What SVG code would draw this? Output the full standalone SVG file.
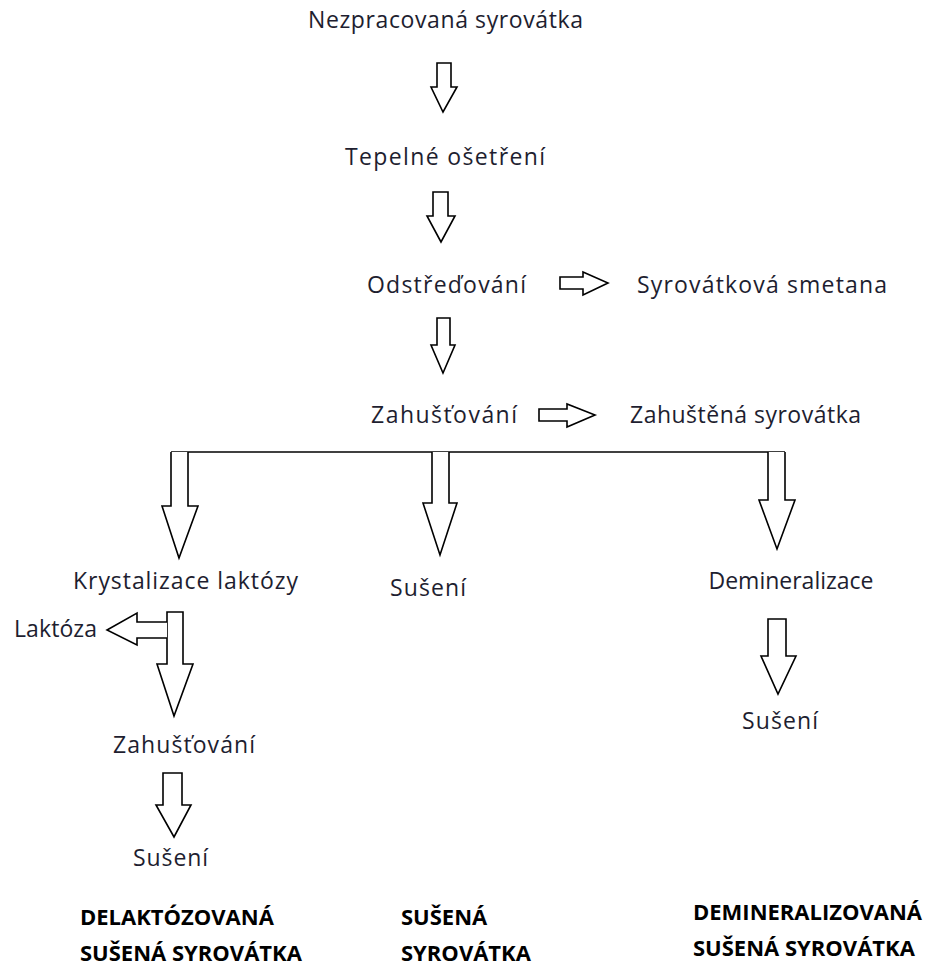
<svg xmlns="http://www.w3.org/2000/svg" width="930" height="967" viewBox="0 0 930 967">
<style>
.t{font-family:"Open Sans","Liberation Sans",sans-serif;font-size:23px;fill:#1e1e30}
.b{font-family:"Open Sans","Liberation Sans",sans-serif;font-size:22px;font-weight:bold;fill:#000}
.a{fill:#fff;stroke:#000;stroke-width:1.6;stroke-linejoin:miter}
</style>
<rect width="930" height="967" fill="#fff"/>
<g id="connectors">
<path class="a" d="M437 63 H451 V87 H457 L443 112 L431 87 H437 Z"/>
<path class="a" d="M433 192 H448 V216 H455 L441 242 L427 216 H433 Z"/>
<path class="a" d="M560 277 H583 V272 L608 283 L583 295 V289 H560 Z"/>
<path class="a" d="M437 318 H450 V345 H455 L443 373 L431 345 H437 Z"/>
<path class="a" d="M539 409 H567 V404 L595 415 L567 427 V421 H539 Z"/>
<line x1="171" y1="452" x2="785" y2="452" stroke="#000" stroke-width="1.6"/>
<path class="a" d="M171 452 V506 H162 L179 558 L198 506 H188 V452"/>
<path class="a" d="M432 452 V503 H423 L440 555 L457 503 H449 V452"/>
<path class="a" d="M768 452 V500 H759 L777 549 L795 500 H785 V452"/>
<path class="a" d="M167 612 H183 V664 H193 L174 716 L157 664 H167 Z"/>
<path class="a" d="M167 622 H137 V613 L107 630 L137 645 V638 H167"/>
<path class="a" d="M768 619 H786 V656 H796 L778 694 L761 656 H768 Z"/>
<path class="a" d="M163 773 H182 V805 H191 L174 837 L156 805 H163 Z"/>
</g>
<g id="n1"><text class="t" x="308" y="28" textLength="275">Nezpracovaná syrovátka</text></g>
<g id="n2"><text class="t" x="345" y="165" textLength="200">Tepelné ošetření</text></g>
<g id="n3"><text class="t" x="367" y="293" textLength="159">Odstřeďování</text></g>
<g id="n4"><text class="t" x="637" y="293" textLength="250">Syrovátková smetana</text></g>
<g id="n5"><text class="t" x="371" y="423" textLength="146">Zahušťování</text></g>
<g id="n6"><text class="t" x="630" y="423" textLength="231">Zahuštěná syrovátka</text></g>
<g id="n7"><text class="t" x="73" y="589" textLength="225">Krystalizace laktózy</text></g>
<g id="n8"><text class="t" x="390" y="596" textLength="76">Sušení</text></g>
<g id="n9"><text class="t" x="791" y="589" text-anchor="middle">Demineralizace</text></g>
<g id="n10"><text class="t" x="14" y="637" textLength="83">Laktóza</text></g>
<g id="n11"><text class="t" x="742" y="729" textLength="76">Sušení</text></g>
<g id="n12"><text class="t" x="113" y="753" textLength="142">Zahušťování</text></g>
<g id="n13"><text class="t" x="133" y="866" textLength="75">Sušení</text></g>
<g id="r1"><text class="b" x="80" y="925">DELAKTÓZOVANÁ</text><text class="b" x="80" y="961">SUŠENÁ SYROVÁTKA</text></g>
<g id="r2"><text class="b" x="401" y="925">SUŠENÁ</text><text class="b" x="401" y="961">SYROVÁTKA</text></g>
<g id="r3"><text class="b" x="693" y="920">DEMINERALIZOVANÁ</text><text class="b" x="693" y="956">SUŠENÁ SYROVÁTKA</text></g>
</svg>
